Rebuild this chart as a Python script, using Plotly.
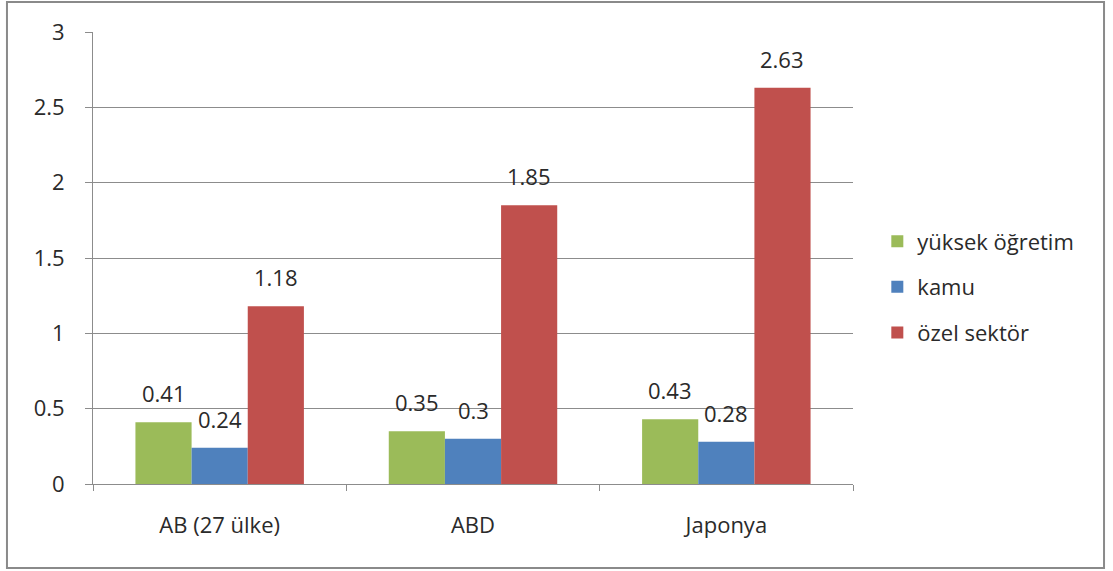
import plotly.graph_objects as go

# R&D spending by sector (% of GDP)
categories = ["AB (27 ülke)", "ABD", "Japonya"]
yuksek_ogretim = [0.41, 0.35, 0.43]
kamu = [0.24, 0.30, 0.28]
ozel_sektor = [1.18, 1.85, 2.63]

series = [
    ("yüksek öğretim", yuksek_ogretim, "#9BBB59"),
    ("kamu", kamu, "#4F81BD"),
    ("özel sektör", ozel_sektor, "#C0504D"),
]

FONT = "Open Sans"
FS = 22
TEXT = "#2a2a2a"
GRID = "#8c8c8c"
BARGAP = 0.335

fig = go.Figure()
for i, (name, vals, color) in enumerate(series):
    fig.add_trace(go.Bar(
        x=categories, y=vals, name=name,
        marker=dict(color=color, line=dict(width=0)),
        legendgroup=f"g{i}",
    ))

# value labels above each bar
n = len(series)
bar_w = (1 - BARGAP) / n
for i, (name, vals, color) in enumerate(series):
    offset = (i - (n - 1) / 2) * bar_w
    for j, v in enumerate(vals):
        fig.add_annotation(
            x=j + offset, y=v, xref="x", yref="y",
            text=f"{v:g}", showarrow=False,
            yanchor="middle", yshift=29,
            font=dict(family=FONT, size=FS, color=TEXT),
        )

# outer frame of the chart
fig.add_shape(
    type="rect", xref="paper", yref="paper",
    x0=-0.1132, x1=1.3303, y0=-0.1858, y1=1.0664,
    line=dict(color="#8a8a8a", width=2), fillcolor="rgba(0,0,0,0)",
    layer="below",
)

fig.update_layout(
    width=1113, height=571,
    margin=dict(l=93, r=260, t=32, b=87),
    paper_bgcolor="white", plot_bgcolor="white",
    barmode="group", bargap=BARGAP, bargroupgap=0,
    font=dict(family=FONT, size=FS, color=TEXT),
    showlegend=True,
    legend=dict(
        x=1.032, y=0.436, xanchor="left", yanchor="middle",
        traceorder="grouped", tracegroupgap=14,
        font=dict(family=FONT, size=FS, color=TEXT),
        bgcolor="rgba(0,0,0,0)",
    ),
    xaxis=dict(
        type="category",
        showline=True, linecolor=GRID, linewidth=1,
        ticks="outside", ticklen=6, tickcolor=GRID, tickson="boundaries",
        ticklabelstandoff=22,
        showgrid=False, zeroline=False,
        tickfont=dict(family=FONT, size=FS, color=TEXT),
    ),
    yaxis=dict(
        range=[0, 3], tickvals=[0, 0.5, 1, 1.5, 2, 2.5, 3],
        ticktext=["0", "0.5", "1", "1.5", "2", "2.5", "3"],
        showline=True, linecolor=GRID, linewidth=1,
        ticks="outside", ticklen=7, tickcolor=GRID,
        ticklabelstandoff=16,
        showgrid=True, gridcolor=GRID, gridwidth=1,
        zeroline=False,
        tickfont=dict(family=FONT, size=FS, color=TEXT),
    ),
)

fig.write_html("out.html")
